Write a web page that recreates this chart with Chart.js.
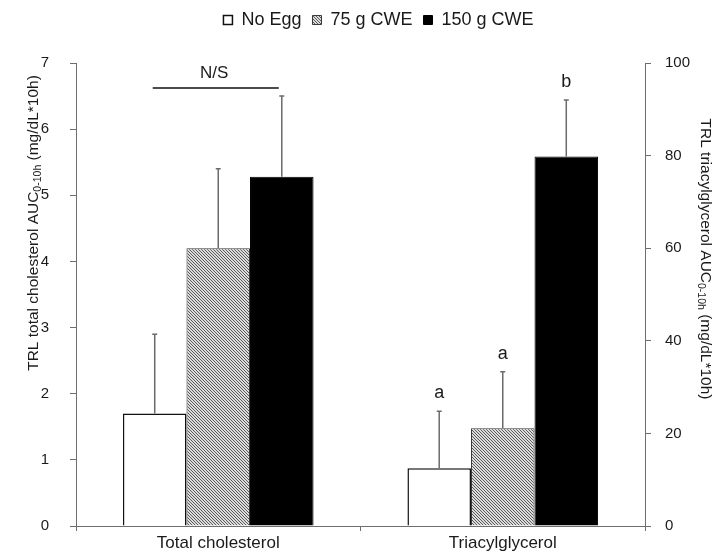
<!DOCTYPE html>
<html><head><meta charset="utf-8">
<script src="https://cdn.jsdelivr.net/npm/chart.js@4"></script>
<style>html,body{margin:0;padding:0;background:#fff}#wrap{width:715px;height:559px}</style>
</head><body><div id="wrap"><canvas id="c" width="715" height="559"></canvas></div>
<script>
const categories = ['Total cholesterol', 'Triacylglycerol'];
const seriesNames = ['No Egg', '75 g CWE', '150 g CWE'];
const cholesterolMeans = [1.7, 4.2, 5.28];
const cholesterolErrors = [1.2, 1.2, 1.22];
const tagMeans = [12.5, 21.1, 79.8];
const tagErrors = [12.3, 12.2, 12.2];
const tagLetters = ['a', 'a', 'b'];
const cholesterolNote = 'N/S';
const leftTicks = [0, 1, 2, 3, 4, 5, 6, 7];
const rightTicks = [0, 20, 40, 60, 80, 100];
const leftTitle = ['TRL total cholesterol AUC', '0-10h', ' (mg/dL*10h)'];
const rightTitle = ['TRL triacylglycerol AUC', '0-10h', ' (mg/dL*10h)'];

const FAM = '"Liberation Sans", Arial, sans-serif';
const TXT = '#1a1a1a';
const AXC = '#6e6e6e';

const canvas = document.getElementById('c');
const ctx0 = canvas.getContext('2d');
const tile = document.createElement('canvas');
tile.width = 3; tile.height = 3;
const tc = tile.getContext('2d');
tc.fillStyle = '#dcdcdc'; tc.fillRect(0, 0, 3, 3);
tc.fillStyle = '#5a5a5a';
for (let i = 0; i < 3; i++) tc.fillRect(i, i, 1, 1);
const hatch = ctx0.createPattern(tile, 'repeat');

const fills = ['#ffffff', hatch, '#000000'];
const borders = ['#111111', '#3a3a3a', '#000000'];
const bw = [1.5, 1, 1];

const datasets = [];
seriesNames.forEach((n, i) => datasets.push({
  label: n, data: [cholesterolMeans[i], null], yAxisID: 'y', skipNull: true,
  backgroundColor: fills[i], borderColor: borders[i], borderWidth: bw[i],
  categoryPercentage: 0.67, barPercentage: 1.0
}));
seriesNames.forEach((n, i) => datasets.push({
  label: n, data: [null, tagMeans[i]], yAxisID: 'y2', skipNull: true,
  backgroundColor: fills[i], borderColor: borders[i], borderWidth: bw[i],
  categoryPercentage: 0.67, barPercentage: 1.0
}));

function drawTitle(ctx, parts, cx, cy, rot) {
  ctx.save(); ctx.translate(cx, cy); ctx.rotate(rot);
  const big = '15.5px ' + FAM, small = '10.5px ' + FAM;
  ctx.font = big; const w0 = ctx.measureText(parts[0]).width, w2 = ctx.measureText(parts[2]).width;
  ctx.font = small; const w1 = ctx.measureText(parts[1]).width;
  let x = -(w0 + w1 + w2) / 2;
  ctx.textBaseline = 'middle'; ctx.textAlign = 'left'; ctx.fillStyle = TXT;
  ctx.font = big; ctx.fillText(parts[0], x, 0); x += w0;
  ctx.font = small; ctx.fillText(parts[1], x, 4); x += w1;
  ctx.font = big; ctx.fillText(parts[2], x, 0);
  ctx.restore();
}

const extras = {
  id: 'extras',
  afterLayout(chart) {
    const lg = chart.legend;
    lg.left += 21; lg.right += 21;
    lg.top -= 24; lg.bottom -= 24;
  },
  afterDatasetsDraw(chart) {
    const ctx = chart.ctx;
    const y = chart.scales.y, y2 = chart.scales.y2;
    ctx.save();
    ctx.strokeStyle = '#6b6b6b'; ctx.lineWidth = 1.5;
    let tops = [];
    for (let i = 0; i < 6; i++) {
      const meta = chart.getDatasetMeta(i);
      const idx = i < 3 ? 0 : 1;
      const bar = meta.data[idx];
      const s = i < 3 ? y : y2;
      const k = i % 3;
      const top = i < 3 ? s.getPixelForValue(cholesterolMeans[k] + cholesterolErrors[k])
                        : s.getPixelForValue(tagMeans[k] + tagErrors[k]);
      tops[i] = {x: bar.x, y: top};
      ctx.beginPath();
      ctx.moveTo(bar.x, bar.y); ctx.lineTo(bar.x, top);
      ctx.moveTo(bar.x - 2.5, top); ctx.lineTo(bar.x + 2.5, top);
      ctx.stroke();
    }
    ctx.fillStyle = TXT; ctx.textAlign = 'center'; ctx.textBaseline = 'middle';
    ctx.font = '18px ' + FAM;
    for (let k = 0; k < 3; k++) ctx.fillText(tagLetters[k], tops[3 + k].x, tops[3 + k].y - 18);
    const hi = Math.min(tops[0].y, tops[1].y, tops[2].y);
    const ly = hi - 8;
    ctx.strokeStyle = '#111'; ctx.lineWidth = 1.5;
    ctx.beginPath(); ctx.moveTo(tops[0].x - 2, ly); ctx.lineTo(tops[2].x - 3, ly); ctx.stroke();
    ctx.font = '17px ' + FAM;
    ctx.fillText(cholesterolNote, (tops[0].x + tops[2].x) / 2 - 4, ly - 15);
    ctx.restore();
  },
  afterDraw(chart) {
    const a = chart.chartArea, ctx = chart.ctx;
    drawTitle(ctx, leftTitle, a.left - 42, a.top + 160, -Math.PI / 2);
    drawTitle(ctx, rightTitle, a.right + 60, a.top + 196, Math.PI / 2);
  }
};

new Chart(canvas, {
  type: 'bar',
  data: { labels: categories, datasets },
  options: {
    responsive: false, animation: false, devicePixelRatio: 1,
    layout: { padding: { top: 24, bottom: 0, left: 0, right: 0 } },
    plugins: {
      tooltip: { enabled: false },
      legend: {
        position: 'top', align: 'center',
        labels: {
          boxWidth: 9, boxHeight: 9, padding: 11, color: TXT,
          font: { size: 18, family: FAM },
          filter: (item) => item.datasetIndex < 3
        }
      }
    },
    scales: {
      x: {
        grid: { display: true, drawOnChartArea: false, offset: true, tickLength: 5, color: AXC },
        border: { color: AXC, width: 1 },
        ticks: { color: TXT, font: { size: 17, family: FAM }, padding: 2 },
        afterFit: (s) => { s.height = 33; }
      },
      y: {
        position: 'left', min: 0, max: 7,
        afterBuildTicks: (s) => { s.ticks = leftTicks.map(v => ({ value: v })); },
        grid: { display: true, drawOnChartArea: false, tickLength: 6, color: AXC },
        border: { color: AXC, width: 1 },
        ticks: { color: TXT, font: { size: 15, family: FAM }, padding: 21 },
        afterFit: (s) => { s.width = 76; }
      },
      y2: {
        position: 'right', min: 0, max: 100,
        afterBuildTicks: (s) => { s.ticks = rightTicks.map(v => ({ value: v })); },
        grid: { display: true, drawOnChartArea: false, tickLength: 6, color: AXC },
        border: { color: AXC, width: 1 },
        ticks: { color: TXT, font: { size: 15, family: FAM }, padding: 14 },
        afterFit: (s) => { s.width = 70; }
      }
    }
  },
  plugins: [extras]
});
</script>
</body></html>
